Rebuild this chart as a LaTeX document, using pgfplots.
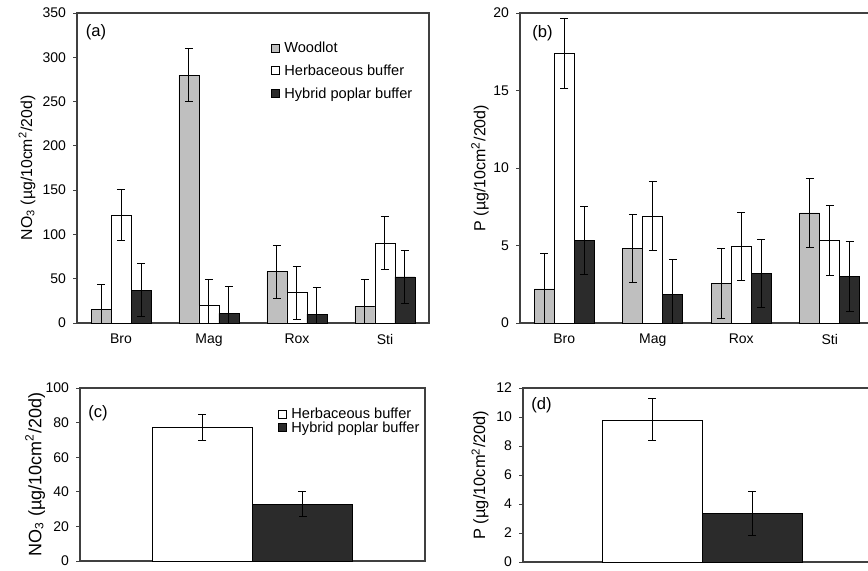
\documentclass[border=0pt]{standalone}
\usepackage{fontspec}
\setmainfont{Liberation Sans}
\usepackage{pgfplots}
\pgfplotsset{compat=1.18}

\definecolor{wood}{gray}{0.75}
\definecolor{hyb}{gray}{0.17}
\definecolor{frame}{gray}{0.25}

\pgfplotsset{
  panel/.style={
    scale only axis,
    ybar=0pt,
    axis line style={frame, line width=0.6pt},
    font=\fontsize{7}{8}\selectfont,
    /pgf/number format/assume math mode=true,
    ymin=0, ytick pos=left, xtick pos=bottom,
    tick align=outside, major tick length=2pt, minor tick length=2pt,
    tick style={frame, line width=0.5pt},
    error bars/y dir=both, error bars/y explicit,
    error bars/error bar style={black, line width=0.5pt},
    error bars/error mark options={rotate=90, mark size=2pt, line width=0.5pt, black},
    legend style={draw=none, fill=none, inner sep=0pt, anchor=north west,
      font=\fontsize{7.3}{8}\selectfont, cells={anchor=west},
      nodes={inner sep=0.4pt, text height=5.2pt, text depth=0.8pt},
      /tikz/every odd column/.append style={column sep=1.6pt}},
    legend image code/.code={\draw[#1, line width=0.5pt] (0pt,-2pt) rectangle (4pt,2pt);},
  },
  cats/.style={
    xmin=-0.5, xmax=3.5, xtick={0,1,2,3}, xticklabels={Bro,Mag,Rox,Sti},
    xtick style={draw=none}, minor xtick={-0.5,0.5,1.5,2.5,3.5},
    bar width=10pt, width=176pt, height=155pt,
  },
  single/.style={
    xmin=-1, xmax=1, xtick=\empty, bar width=50pt, height=86.5pt,
  },
}

\begin{document}
\begin{tikzpicture}
\useasboundingbox (0,0) rectangle (434pt,-285pt);
\clip (0,0) rectangle (434pt,-285pt);

% (a) nitrate by site
\begin{axis}[panel, cats, at={(38.5pt,-161.5pt)}, anchor=south west,
    ymax=350, ytick={0,50,...,350},
    ylabel={NO\textsubscript{3} (µg/10cm\textsuperscript{2}/20d)},
    ylabel style={at={(axis description cs:-0.142,0.5)}, anchor=center, font=\fontsize{7.9}{9}\selectfont},
    legend style={at={(rel axis cs:0.551,0.91)}, row sep=4.6pt}]
  \addplot[fill=wood, draw=black] coordinates {
    (0,15) +- (0,29) (1,280) +- (0,30) (2,58) +- (0,30) (3,19) +- (0,30)};
  \addlegendentry{Woodlot}
  \addplot[fill=white, draw=black] coordinates {
    (0,122) +- (0,29) (1,20) +- (0,29) (2,34) +- (0,30) (3,90) +- (0,30)};
  \addlegendentry{Herbaceous buffer}
  \addplot[fill=hyb, draw=black] coordinates {
    (0,37) +- (0,30) (1,11) +- (0,30) (2,10) +- (0,30) (3,52) +- (0,29.5)};
  \addlegendentry{Hybrid poplar buffer}
  \node[anchor=west, inner sep=0pt, font=\fontsize{8.3}{9}\selectfont] at (rel axis cs:0.024,0.939) {(a)};
\end{axis}

% (b) phosphorus by site
\begin{axis}[panel, cats, at={(260pt,-161.5pt)}, anchor=south west,
    width=177pt, ymax=20, ytick={0,5,...,20},
    ylabel={P (µg/10cm\textsuperscript{2}/20d)},
    ylabel style={at={(axis description cs:-0.113,0.5)}, anchor=center, font=\fontsize{8}{9}\selectfont}]
  \addplot[fill=wood, draw=black] coordinates {
    (0,2.2) +- (0,2.3) (1,4.8) +- (0,2.2) (2,2.55) +- (0,2.27) (3,7.1) +- (0,2.25)};
  \addplot[fill=white, draw=black] coordinates {
    (0,17.4) +- (0,2.25) (1,6.9) +- (0,2.2) (2,4.93) +- (0,2.2) (3,5.3) +- (0,2.25)};
  \addplot[fill=hyb, draw=black] coordinates {
    (0,5.3) +- (0,2.2) (1,1.85) +- (0,2.25) (2,3.17) +- (0,2.2) (3,3.0) +- (0,2.28)};
  \node[anchor=west, inner sep=0pt, font=\fontsize{8.3}{9}\selectfont] at (rel axis cs:0.034,0.935) {(b)};
\end{axis}

% (c) nitrate pooled
\begin{axis}[panel, single, at={(40pt,-280.5pt)}, anchor=south west,
    width=172.5pt, ymax=100, ytick={0,20,...,100},
    ylabel={NO\textsubscript{3} (µg/10cm\textsuperscript{2}/20d)},
    ylabel style={at={(axis description cs:-0.13,0.5)}, anchor=center, font=\fontsize{9}{10}\selectfont},
    legend style={at={(rel axis cs:0.574,0.89)}, row sep=0pt}]
  \addplot[fill=white, draw=black] coordinates {(0,77) +- (0,7.5)};
  \addlegendentry{Herbaceous buffer}
  \addplot[fill=hyb, draw=black] coordinates {(0,33) +- (0,7.3)};
  \addlegendentry{Hybrid poplar buffer}
  \node[anchor=west, inner sep=0pt, font=\fontsize{8.3}{9}\selectfont] at (rel axis cs:0.023,0.855) {(c)};
\end{axis}

% (d) phosphorus pooled
\begin{axis}[panel, single, at={(261.5pt,-281pt)}, anchor=south west,
    width=179pt, height=87pt, ymax=12, ytick={0,2,...,12},
    ylabel={P (µg/10cm\textsuperscript{2}/20d)},
    ylabel style={at={(axis description cs:-0.12,0.5)}, anchor=center, font=\fontsize{8.2}{9}\selectfont}]
  \addplot[fill=white, draw=black] coordinates {(0,9.8) +- (0,1.45)};
  \addplot[fill=hyb, draw=black] coordinates {(0,3.35) +- (0,1.5)};
  \node[anchor=west, inner sep=0pt, font=\fontsize{8.3}{9}\selectfont] at (rel axis cs:0.022,0.902) {(d)};
\end{axis}
\end{tikzpicture}
\end{document}
